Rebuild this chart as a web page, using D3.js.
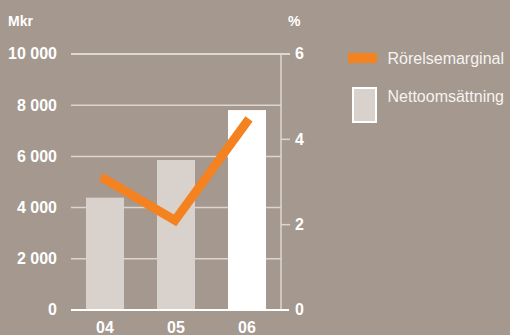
<!DOCTYPE html>
<html>
<head>
<meta charset="utf-8">
<script src="https://cdn.jsdelivr.net/npm/d3@7"></script>
<style>
  html, body { margin: 0; padding: 0; background: #a4988f; }
  svg { display: block; }
  text { font-family: "Liberation Sans", Arial, Helvetica, sans-serif; }
</style>
</head>
<body>
<svg id="chart" width="510" height="335"></svg>
<script>
// Years on the category axis
const years = ["04", "05", "06"];
// Net sales, Mkr (bars)
const nettoomsattning = [4390, 5860, 7810];
// Operating margin, % (line)
const rorelsemarginal = [3.12, 2.1, 4.48];
// Axis ticks
const leftTicks = [0, 2000, 4000, 6000, 8000, 10000];
const rightTicks = [0, 2, 4, 6];

const svg = d3.select("#chart");
const light = "#ddd6d0";
const white = "#ffffff";
const orange = "#f58220";

const plotLeft = 71, plotRight = 281, plotTop = 54, plotBottom = 310;

const y = d3.scaleLinear().domain([0, 10000]).range([plotBottom, plotTop]);
const yR = d3.scaleLinear().domain([0, 6]).range([plotBottom, plotTop]);
const x = d3.scaleBand().domain(years).range([69.5, 282.5]).paddingInner(0.465).paddingOuter(0.2325);
const xLine = d3.scalePoint().domain(years).range([101, 249]);

const fmt = v => d3.format(",")(v).replace(/,/g, " ");

// Horizontal grid
svg.append("g").selectAll("line")
  .data(leftTicks.filter(t => t > 0))
  .join("line")
  .attr("x1", plotLeft)
  .attr("x2", d => d === 10000 ? 290 : plotRight)
  .attr("y1", d => y(d)).attr("y2", d => y(d))
  .attr("stroke", d => d === 10000 ? "#f2eeea" : light)
  .attr("stroke-width", 1.5);

// Left axis labels
svg.append("g").selectAll("text")
  .data(leftTicks)
  .join("text")
  .attr("x", 57).attr("y", d => y(d)).attr("dy", "0.34em")
  .attr("text-anchor", "end")
  .attr("fill", white).attr("font-size", 16).attr("font-weight", "bold")
  .text(fmt);

svg.append("text").attr("x", 8).attr("y", 26)
  .attr("fill", white).attr("font-size", 14).attr("font-weight", "bold").text("Mkr");

// Bars
svg.append("g").selectAll("rect")
  .data(years)
  .join("rect")
  .attr("x", d => x(d))
  .attr("width", x.bandwidth())
  .attr("y", (d, i) => y(nettoomsattning[i]))
  .attr("height", (d, i) => y(0) - y(nettoomsattning[i]))
  .attr("fill", (d, i) => i === years.length - 1 ? white : "#d8d1cc");

// Right axis
svg.append("line").attr("x1", plotRight).attr("x2", plotRight)
  .attr("y1", plotTop).attr("y2", plotBottom)
  .attr("stroke", light).attr("stroke-width", 1.5);
svg.append("g").selectAll("line")
  .data(rightTicks.filter(t => t > 0 && t < 6))
  .join("line")
  .attr("x1", plotRight).attr("x2", 290)
  .attr("y1", d => yR(d)).attr("y2", d => yR(d))
  .attr("stroke", light).attr("stroke-width", 1.5);
svg.append("g").selectAll("text")
  .data(rightTicks)
  .join("text")
  .attr("x", 295).attr("y", d => yR(d)).attr("dy", "0.34em")
  .attr("fill", white).attr("font-size", 16).attr("font-weight", "bold")
  .text(d => d);
svg.append("text").attr("x", 288).attr("y", 26)
  .attr("fill", white).attr("font-size", 14).attr("font-weight", "bold").text("%");

// Baseline
svg.append("line").attr("x1", plotLeft).attr("x2", 289)
  .attr("y1", plotBottom).attr("y2", plotBottom)
  .attr("stroke", white).attr("stroke-width", 2);

// Category labels
svg.append("g").selectAll("text")
  .data(years)
  .join("text")
  .attr("x", d => x(d) + x.bandwidth() / 2).attr("y", 333)
  .attr("text-anchor", "middle")
  .attr("fill", white).attr("font-size", 16).attr("font-weight", "bold")
  .text(d => d);

// Operating margin line
const line = d3.line()
  .x((d, i) => xLine(years[i]))
  .y(d => yR(d));
svg.append("path")
  .datum(rorelsemarginal)
  .attr("d", line)
  .attr("fill", "none")
  .attr("stroke", orange)
  .attr("stroke-width", 9)
  .attr("stroke-linejoin", "miter")
  .attr("stroke-linecap", "butt");

// Legend
const legend = svg.append("g");
legend.append("rect").attr("x", 348).attr("y", 53).attr("width", 29).attr("height", 10).attr("fill", orange);
legend.append("text").attr("x", 387.5).attr("y", 63.5)
  .attr("fill", "#f6f3f0").attr("font-size", 16).text("Rörelsemarginal");
legend.append("rect").attr("x", 353).attr("y", 88).attr("width", 23).attr("height", 34)
  .attr("fill", "#d8d1cc").attr("stroke", white).attr("stroke-width", 2);
legend.append("text").attr("x", 387.5).attr("y", 102)
  .attr("fill", "#f6f3f0").attr("font-size", 16).text("Nettoomsättning");
</script>
</body>
</html>
